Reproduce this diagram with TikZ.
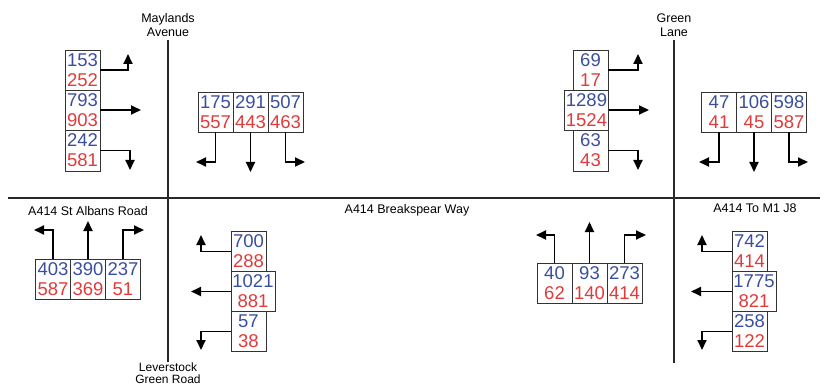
\documentclass[tikz,border=0pt]{standalone}
\usepackage{fontspec}
\setmainfont{Liberation Sans}
\usetikzlibrary{arrows.meta}
\definecolor{tblue}{RGB}{58,78,158}
\definecolor{tred}{RGB}{224,58,58}
\definecolor{road}{RGB}{40,40,40}
\newcommand{\cnt}[2]{{\color{tblue}#1}\\{\color{tred}#2}}

\begin{document}
\begin{tikzpicture}[x=1pt,y=-1pt]
\tikzstyle{cbox}=[draw=black!80,line width=0.8pt,inner sep=0pt,minimum width=35pt,minimum height=40pt,align=center,font=\fontsize{18.5}{20}\selectfont];
\tikzstyle{wide}=[minimum width=44pt];
\tikzstyle{flow}=[line width=1.8pt,-{Triangle[length=10pt,width=9pt]}];
\tikzstyle{rd}=[road,line width=1.4pt];
\tikzstyle{rname}=[align=center,font=\fontsize{12.5}{13.5}\selectfont];
\useasboundingbox (0,0) rectangle (828,385);

% roads
\coordinate (hw) at (8,198);
\coordinate (he) at (820,198);
\coordinate (mn) at (168,40);
\coordinate (ms) at (168,362);
\coordinate (gn) at (674,40);
\coordinate (gs) at (674,363);
\draw [rd] (hw) -- (he);
\draw [rd] (mn) -- (ms);
\draw [rd] (gn) -- (gs);
\node [rname] (maylands) at (168,25) {Maylands\\Avenue};
\node [rname] (green) at (674,25) {Green\\Lane};
\node [rname,font=\fontsize{12}{12}\selectfont] (leverstock) at (168,373) {Leverstock\\Green Road};
\node [rname] (stalbans) at (88,211) {A414 St Albans Road};
\node [rname] (breakspear) at (407,210) {A414 Breakspear Way};
\node [rname] (tom1) at (755,208) {A414 To M1 J8};

% Maylands Avenue, west arm
\node [cbox] (a1) at (82.5,70) {\cnt{153}{252}};
\node [cbox] (a2) at (82.5,110) {\cnt{793}{903}};
\node [cbox,minimum height=41pt] (a3) at (82.5,150.5) {\cnt{242}{581}};
\coordinate (ta1) at (128,54);
\coordinate (ta2) at (141,110);
\coordinate (ta3) at (130,170);
\draw [flow] (a1.east) -| (ta1);
\draw [flow] (a2.east) -- (ta2);
\draw [flow] (a3.east) -| (ta3);

% Maylands Avenue, north arm
\node [cbox] (b1) at (215.5,112) {\cnt{175}{557}};
\node [cbox] (b2) at (250.5,112) {\cnt{291}{443}};
\node [cbox] (b3) at (285.5,112) {\cnt{507}{463}};
\coordinate (tb1) at (196,162);
\coordinate (tb2) at (250.5,172);
\coordinate (tb3) at (305,162);
\draw [flow] (b1.south) |- (tb1);
\draw [flow] (b2.south) -- (tb2);
\draw [flow] (b3.south) |- (tb3);

% Green Lane, west arm
\node [cbox] (c1) at (590.5,70) {\cnt{69}{17}};
\node [cbox,wide] (c2) at (586.5,110) {\cnt{1289}{1524}};
\node [cbox,minimum height=41pt] (c3) at (590.5,150.5) {\cnt{63}{43}};
\coordinate (tc1) at (638,54);
\coordinate (tc2) at (649,110);
\coordinate (tc3) at (638,170);
\draw [flow] (c1.east) -| (tc1);
\draw [flow] (c2.east) -- (tc2);
\draw [flow] (c3.east) -| (tc3);

% Green Lane, north arm
\node [cbox] (d1) at (719,112) {\cnt{47}{41}};
\node [cbox] (d2) at (754,112) {\cnt{106}{45}};
\node [cbox] (d3) at (789,112) {\cnt{598}{587}};
\coordinate (td1) at (699,162);
\coordinate (td2) at (754,172);
\coordinate (td3) at (808,162);
\draw [flow] (d1.south) |- (td1);
\draw [flow] (d2.south) -- (td2);
\draw [flow] (d3.south) |- (td3);

% St Albans Road arm
\node [cbox] (e1) at (53,279) {\cnt{403}{587}};
\node [cbox] (e2) at (88,279) {\cnt{390}{369}};
\node [cbox] (e3) at (123,279) {\cnt{237}{51}};
\coordinate (te1) at (34,230);
\coordinate (te2) at (88,221);
\coordinate (te3) at (144,230);
\draw [flow] (e1.north) |- (te1);
\draw [flow] (e2.north) -- (te2);
\draw [flow] (e3.north) |- (te3);

% Leverstock Green Road arm
\node [cbox] (f1) at (248.5,251.5) {\cnt{700}{288}};
\node [cbox,wide] (f2) at (253,291.5) {\cnt{1021}{881}};
\node [cbox] (f3) at (248.5,331.5) {\cnt{57}{38}};
\coordinate (tf1) at (201,235);
\coordinate (tf2) at (191,291.5);
\coordinate (tf3) at (201,350);
\draw [flow] (f1.west) -| (tf1);
\draw [flow] (f2.west) -- (tf2);
\draw [flow] (f3.west) -| (tf3);

% Breakspear Way arm
\node [cbox] (g1) at (554.5,283) {\cnt{40}{62}};
\node [cbox] (g2) at (589.5,283) {\cnt{93}{140}};
\node [cbox] (g3) at (624.5,283) {\cnt{273}{414}};
\coordinate (tg1) at (536,235);
\coordinate (tg2) at (589.5,222);
\coordinate (tg3) at (646,235);
\draw [flow] (g1.north) |- (tg1);
\draw [flow] (g2.north) -- (tg2);
\draw [flow] (g3.north) |- (tg3);

% Green Lane, south arm
\node [cbox] (h1) at (749.5,251.5) {\cnt{742}{414}};
\node [cbox,wide] (h2) at (754,291.5) {\cnt{1775}{821}};
\node [cbox] (h3) at (749.5,331.5) {\cnt{258}{122}};
\coordinate (th1) at (702,235);
\coordinate (th2) at (691,291.5);
\coordinate (th3) at (702,350);
\draw [flow] (h1.west) -| (th1);
\draw [flow] (h2.west) -- (th2);
\draw [flow] (h3.west) -| (th3);
\end{tikzpicture}
\end{document}
